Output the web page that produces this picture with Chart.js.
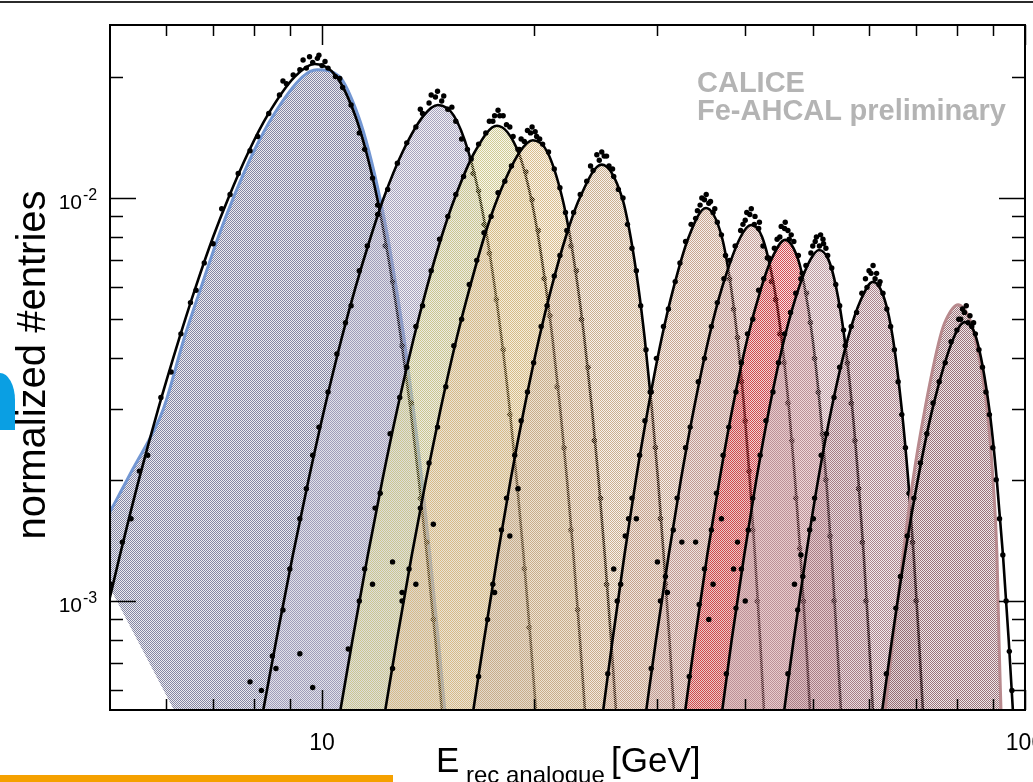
<!DOCTYPE html>
<html>
<head>
<meta charset="utf-8">
<script src="https://cdn.jsdelivr.net/npm/chart.js@4.4.1/dist/chart.umd.min.js"></script>
<style>
  html, body { margin: 0; padding: 0; background: #fff; overflow: hidden; }
  #wrap { position: relative; width: 1033px; height: 782px; overflow: hidden; font-family: "Liberation Sans", Arial, sans-serif; }
  #wrap canvas { position: absolute; left: 0; top: 0; }
  .abs { position: absolute; white-space: nowrap; line-height: 1; }
</style>
</head>
<body>
<div id="wrap">
  <canvas id="chart" width="1033" height="782"></canvas>
  <div class="abs" style="left:0;top:1px;width:1033px;height:2px;background:#2b2b2b"></div>
  <div class="abs" style="left:0;top:373px;width:15px;height:57px;background:#0a9fe3;border-top-right-radius:15px 27px"></div>
  <div class="abs" style="left:-149px;top:341px;width:360px;height:48px;line-height:48px;font-size:40px;text-align:center;transform:rotate(-90deg)">normalized #entries</div>
  <div class="abs" style="left:697px;top:68px;font-size:29px;font-weight:bold;color:#b4b4b4">CALICE</div>
  <div class="abs" style="left:697px;top:96px;font-size:29px;font-weight:bold;color:#b4b4b4">Fe-AHCAL preliminary</div>
  <div class="abs" style="left:436px;top:742px;font-size:35px">E</div>
  <div class="abs" style="left:466px;top:763px;font-size:24px">rec analogue</div>
  <div class="abs" style="left:611px;top:742px;font-size:35px">[GeV]</div>
  <div class="abs" style="left:0;top:775px;width:393px;height:7px;background:#f5a100"></div>
</div>
<script>
// beam energies (GeV)
const energies = [10, 15, 18, 20, 25, 35, 40, 45, 50, 60, 80];

// fitted curves, [E_rec, normalized entries]
const fit10 = [[4.83,8e-4],[5.16,1.3e-3],[5.49,2e-3],[5.85,3e-3],[6.27,4.5e-3],[6.61,6e-3],[7.0,8e-3],[7.36,1e-2],[7.86,1.3e-2],[8.36,1.6e-2],[9.15,2e-2],[9.77,2.15e-2],[10.49,2e-2],[11.15,1.6e-2],[11.56,1.3e-2],[11.98,1e-2],[12.28,8e-3],[12.63,6e-3],[12.95,4.5e-3],[13.36,3e-3],[13.73,2e-3],[14.10,1.3e-3],[14.50,8e-4],[14.82,5.3e-4]];
const fit15 = [[8.24,5.3e-4],[8.61,8e-4],[9.09,1.3e-3],[9.57,2e-3],[10.08,3e-3],[10.67,4.5e-3],[11.16,6e-3],[11.73,8e-3],[12.24,1e-2],[13.02,1.3e-2],[13.95,1.6e-2],[14.62,1.70e-2],[15.40,1.6e-2],[16.16,1.3e-2],[16.77,1e-2],[17.17,8e-3],[17.61,6e-3],[18.00,4.5e-3],[18.49,3e-3],[18.92,2e-3],[19.35,1.3e-3],[19.80,8e-4],[20.16,5.3e-4]];
const fit18 = [[10.61,5.3e-4],[11.05,8e-4],[11.62,1.3e-3],[12.19,2e-3],[12.80,3e-3],[13.51,4.5e-3],[14.10,6e-3],[14.79,8e-3],[15.45,1e-2],[16.49,1.3e-2],[17.74,1.51e-2],[19.02,1.3e-2],[19.83,1e-2],[20.31,8e-3],[20.82,6e-3],[21.27,4.5e-3],[21.82,3e-3],[22.31,2e-3],[22.79,1.3e-3],[23.28,8e-4],[23.67,5.3e-4]];
const fit20 = [[12.29,5.3e-4],[12.78,8e-4],[13.42,1.3e-3],[14.06,2e-3],[14.75,3e-3],[15.55,4.5e-3],[16.23,6e-3],[17.01,8e-3],[17.78,1e-2],[19.11,1.3e-2],[19.95,1.39e-2],[20.92,1.3e-2],[21.97,1e-2],[22.54,8e-3],[23.12,6e-3],[23.61,4.5e-3],[24.21,3e-3],[24.74,2e-3],[25.25,1.3e-3],[25.78,8e-4],[26.20,5.3e-4]];
const fit25 = [[16.40,5.3e-4],[17.00,8e-4],[17.78,1.3e-3],[18.55,2e-3],[19.39,3e-3],[20.37,4.5e-3],[21.21,6e-3],[22.22,8e-3],[23.26,1e-2],[25.0,1.21e-2],[26.73,1e-2],[27.48,8e-3],[28.19,6e-3],[28.77,4.5e-3],[29.46,3e-3],[30.06,2e-3],[30.62,1.3e-3],[31.21,8e-4],[31.67,5.3e-4]];
const fit35 = [[25.10,5.3e-4],[25.90,8e-4],[26.93,1.3e-3],[27.96,2e-3],[29.09,3e-3],[30.43,4.5e-3],[31.64,6e-3],[33.24,8e-3],[35.17,9.44e-3],[37.05,8e-3],[38.18,6e-3],[38.98,4.5e-3],[39.87,3e-3],[40.60,2e-3],[41.29,1.3e-3],[42.00,8e-4],[42.54,5.3e-4]];
const fit40 = [[28.90,5.3e-4],[29.86,8e-4],[31.13,1.3e-3],[32.40,2e-3],[33.81,3e-3],[35.51,4.5e-3],[37.08,6e-3],[39.39,8e-3],[40.76,8.57e-3],[42.27,8e-3],[43.98,6e-3],[45.04,4.5e-3],[46.16,3e-3],[47.08,2e-3],[47.93,1.3e-3],[48.80,8e-4],[49.46,5.3e-4]];
const fit45 = [[32.84,5.3e-4],[33.91,8e-4],[35.32,1.3e-3],[36.77,2e-3],[38.35,3e-3],[40.31,4.5e-3],[42.17,6e-3],[43.54,7.02e-3],[45.57,7.87e-3],[47.59,7.02e-3],[48.59,6e-3],[49.85,4.5e-3],[51.12,3e-3],[52.15,2e-3],[53.08,1.3e-3],[54.01,8e-4],[54.74,5.3e-4]];
const fit50 = [[37.07,5.3e-4],[38.26,8e-4],[39.87,1.3e-3],[41.48,2e-3],[43.27,3e-3],[45.50,4.5e-3],[47.70,6e-3],[49.49,7.02e-3],[50.93,7.43e-3],[52.55,7.02e-3],[53.87,6e-3],[55.35,4.5e-3],[56.80,3e-3],[57.93,2e-3],[58.97,1.3e-3],[59.99,8e-4],[60.78,5.3e-4]];
const fit60 = [[45.41,5.3e-4],[46.87,8e-4],[48.82,1.3e-3],[50.79,2e-3],[53.06,3e-3],[56.02,4.5e-3],[58.39,5.58e-3],[60.78,6.19e-3],[63.18,5.58e-3],[64.86,4.5e-3],[66.77,3e-3],[68.21,2e-3],[69.45,1.3e-3],[70.66,8e-4],[71.60,5.3e-4]];
const fit80 = [[62.60,5.3e-4],[64.67,8e-4],[67.45,1.3e-3],[70.40,2e-3],[73.87,3e-3],[79.17,4.5e-3],[82.16,4.92e-3],[85.22,4.5e-3],[88.95,3e-3],[91.17,2e-3],[93.04,1.3e-3],[94.80,8e-4],[96.14,5.3e-4]];

// simulation histograms that differ visibly from the fit
const sim10 = [[4.99,1.66e-3],[5.37,2.11e-3],[5.95,3e-3],[6.37,4.5e-3],[6.73,6e-3],[7.12,8e-3],[7.48,1e-2],[7.99,1.3e-2],[8.52,1.6e-2],[9.39,2e-2],[9.84,2.08e-2],[10.59,2e-2],[11.26,1.6e-2],[11.67,1.3e-2],[12.09,1e-2],[12.40,8e-3],[12.75,6e-3],[13.08,4.5e-3],[13.49,3e-3],[13.87,2e-3],[14.24,1.3e-3],[14.64,8e-4],[14.96,5.3e-4]];
const sim10Base = [[4.99,1.08e-3],[6.18,5.3e-4],[16,5.3e-4]];
const sim80 = [[63.22,5.3e-4],[64.89,8e-4],[67.06,1.3e-3],[69.29,2e-3],[72.07,3e-3],[75.70,4.5e-3],[77.20,4.98e-3],[80.30,5.43e-3],[83.52,4.98e-3],[84.89,4.5e-3],[88.29,3e-3],[90.05,2e-3],[91.23,1.3e-3],[91.83,8e-4],[92.45,5.3e-4]];

// data points
const dots10 = [[5.0,1.1e-3],[5.2,1.4e-3],[5.35,1.6e-3],[5.5,2.1e-3],[5.65,2.3e-3],[5.9,3.2e-3],[6.1,3.7e-3],[6.3,4.6e-3],[6.5,5.5e-3],[6.62,5.9e-3],[6.8,6.9e-3],[7.0,7.7e-3],[7.2,9.4e-3],[7.4,1.02e-2],[7.6,1.15e-2],[7.9,1.31e-2],[8.1,1.42e-2],[8.4,1.62e-2],[8.7,1.8e-2],[8.8,1.95e-2],[8.9,1.92e-2],[9.1,2.02e-2],[9.3,2.08e-2],[9.4,2.2e-2],[9.5,2.1e-2],[9.6,2.24e-2],[9.7,2.17e-2],[9.85,2.22e-2],[9.9,2.26e-2],[10.0,2.13e-2],[10.1,2.18e-2],[10.2,2.1e-2],[10.45,2.0e-2],[10.6,1.98e-2],[10.7,1.88e-2],[11.0,1.7e-2],[11.3,1.45e-2],[11.5,1.32e-2],[11.8,1.12e-2],[12.0,9.6e-3],[12.3,7.6e-3],[12.6,6.2e-3],[13.0,4.3e-3],[13.4,3.1e-3],[13.8,1.8e-3],[14.1,1.4e-3],[14.4,9e-4]];
const dots15 = [[7.9,6.3e-4],[8.2,6e-4],[8.5,7.3e-4],[8.6,6.8e-4],[8.8,9.5e-4],[9.0,1.2e-3],[9.3,7.4e-4],[9.3,1.6e-3],[9.5,1.9e-3],[9.7,6.1e-4],[9.7,2.3e-3],[9.9,2.7e-3],[10.2,3.3e-3],[10.5,4.1e-3],[10.8,4.9e-3],[11.0,5.4e-3],[11.3,6.6e-3],[11.6,7.6e-3],[12.0,9.1e-3],[12.4,1.05e-2],[12.8,1.22e-2],[13.2,1.37e-2],[13.6,1.5e-2],[13.8,1.66e-2],[13.9,1.62e-2],[14.2,1.72e-2],[14.3,1.8e-2],[14.5,1.78e-2],[14.6,1.84e-2],[14.8,1.74e-2],[14.9,1.79e-2],[15.1,1.66e-2],[15.3,1.68e-2],[15.5,1.55e-2],[15.8,1.4e-2],[16.1,1.32e-2],[16.4,1.15e-2],[16.7,1.04e-2],[17.0,8.6e-3],[17.3,7.3e-3],[17.7,5.6e-3],[18.1,4.2e-3],[18.5,2.9e-3],[19.0,1.9e-3],[19.4,1.2e-3],[19.7,8.6e-4]];
const dots18 = [[10.9,7.6e-4],[11.3,1.0e-3],[11.5,1.2e-3],[11.8,1.1e-3],[11.9,1.7e-3],[12.1,1.85e-3],[12.5,2.6e-3],[12.6,1.25e-3],[12.9,3.2e-3],[13.0,1.05e-3],[13.2,3.8e-3],[13.6,4.8e-3],[13.9,5.4e-3],[14.3,6.6e-3],[14.7,7.9e-3],[15.1,9.0e-3],[15.5,1.02e-2],[15.9,1.13e-2],[16.3,1.25e-2],[16.7,1.36e-2],[17.1,1.45e-2],[17.3,1.55e-2],[17.5,1.55e-2],[17.6,1.6e-2],[17.8,1.65e-2],[17.9,1.6e-2],[18.1,1.6e-2],[18.3,1.52e-2],[18.5,1.5e-2],[18.7,1.42e-2],[19.1,1.32e-2],[19.5,1.16e-2],[19.9,9.9e-3],[20.3,8.3e-3],[20.7,6.3e-3],[21.1,5.1e-3],[21.6,3.4e-3],[22.1,2.4e-3],[22.6,1.5e-3],[23.1,9.5e-4]];
const dots20 = [[12.6,6.8e-4],[13.0,1.0e-3],[13.3,1.2e-3],[13.6,1.1e-3],[13.8,1.7e-3],[14.2,2.2e-3],[14.4,1.55e-3],[14.6,2.7e-3],[15.0,3.4e-3],[15.4,4.3e-3],[15.8,5.0e-3],[16.2,6.1e-3],[16.6,7.0e-3],[17.0,8.2e-3],[17.4,9.0e-3],[17.8,1.03e-2],[18.2,1.1e-2],[18.6,1.2e-2],[19.0,1.32e-2],[19.2,1.4e-2],[19.4,1.38e-2],[19.6,1.47e-2],[19.8,1.45e-2],[19.9,1.5e-2],[20.1,1.46e-2],[20.2,1.42e-2],[20.4,1.4e-2],[20.6,1.36e-2],[21.0,1.3e-2],[21.4,1.18e-2],[21.8,1.06e-2],[22.2,9.2e-3],[22.6,7.6e-3],[23.0,6.6e-3],[23.4,5.0e-3],[23.9,3.8e-3],[24.4,2.5e-3],[24.9,1.8e-3],[25.4,1.1e-3]];
const dots25 = [[16.7,6.5e-4],[17.2,9.0e-4],[17.5,1.1e-3],[17.6,1.05e-3],[18.0,1.5e-3],[18.3,1.8e-3],[18.5,1.45e-3],[18.8,2.3e-3],[19.0,1.9e-3],[19.2,2.8e-3],[19.6,3.3e-3],[20.0,3.9e-3],[20.5,4.8e-3],[20.9,5.4e-3],[21.4,6.4e-3],[21.8,7.2e-3],[22.3,8.3e-3],[22.8,9.2e-3],[23.3,1.02e-2],[23.8,1.1e-2],[24.1,1.2e-2],[24.3,1.17e-2],[24.6,1.28e-2],[24.8,1.24e-2],[25.0,1.3e-2],[25.2,1.27e-2],[25.4,1.27e-2],[25.6,1.2e-2],[25.9,1.18e-2],[26.0,1.13e-2],[26.4,1.05e-2],[26.8,1.0e-2],[27.2,8.6e-3],[27.6,7.5e-3],[28.0,6.6e-3],[28.4,5.4e-3],[28.9,4.2e-3],[29.3,3.3e-3],[29.8,2.4e-3],[30.3,1.6e-3],[30.8,1.1e-3]];
const dots35 = [[25.5,6.6e-4],[26.0,1.2e-3],[26.3,1.0e-3],[26.6,1.1e-3],[27.0,1.45e-3],[27.3,1.6e-3],[27.6,1.8e-3],[28.0,1.6e-3],[28.3,2.3e-3],[28.8,2.8e-3],[29.4,3.3e-3],[29.9,4.0e-3],[30.6,4.8e-3],[31.1,5.3e-3],[31.8,6.2e-3],[32.3,6.9e-3],[32.9,7.8e-3],[33.5,8.6e-3],[34.0,8.9e-3],[34.2,9.3e-3],[34.5,9.6e-3],[34.7,1.0e-2],[35.0,9.9e-3],[35.2,1.02e-2],[35.5,9.7e-3],[35.7,9.8e-3],[36.0,9.2e-3],[36.2,9.4e-3],[36.5,8.7e-3],[37.0,8.1e-3],[37.5,7.2e-3],[38.0,6.3e-3],[38.5,5.3e-3],[39.0,4.5e-3],[39.5,3.5e-3],[40.0,2.8e-3],[40.5,2.1e-3],[41.0,1.5e-3],[41.6,1.0e-3]];
const dots40 = [[29.4,6.8e-4],[30.0,1.25e-3],[30.3,1.0e-3],[30.8,1.15e-3],[31.0,1.05e-3],[31.6,1.5e-3],[32.0,1.8e-3],[32.5,1.4e-3],[32.9,2.4e-3],[33.4,2.7e-3],[34.3,3.5e-3],[35.0,4.0e-3],[35.8,4.8e-3],[36.5,5.5e-3],[37.3,6.3e-3],[38.0,7.0e-3],[38.7,7.6e-3],[39.4,8.3e-3],[39.7,8.6e-3],[40.0,8.8e-3],[40.2,9.2e-3],[40.6,9.1e-3],[40.8,9.4e-3],[41.2,8.6e-3],[41.3,9.0e-3],[41.8,8.4e-3],[41.9,8.7e-3],[42.4,7.6e-3],[43.0,7.1e-3],[43.6,6.2e-3],[44.2,5.6e-3],[44.8,4.6e-3],[45.4,3.9e-3],[46.0,3.1e-3],[46.6,2.5e-3],[47.2,1.8e-3],[47.8,1.35e-3],[48.4,1.0e-3]];
const dots45 = [[33.3,6.5e-4],[34.0,1.4e-3],[34.4,9.8e-4],[35.0,1.2e-3],[35.5,9e-4],[35.8,1.5e-3],[36.0,1.1e-3],[36.4,1.85e-3],[37.0,1.6e-3],[37.2,2.3e-3],[37.9,2.7e-3],[38.8,3.3e-3],[39.5,3.9e-3],[40.3,4.6e-3],[41.0,5.0e-3],[41.8,5.9e-3],[42.5,6.3e-3],[43.2,7.1e-3],[44.0,7.5e-3],[44.4,7.9e-3],[44.8,8.0e-3],[45.0,8.5e-3],[45.5,8.4e-3],[45.6,8.7e-3],[46.0,8.3e-3],[46.2,7.9e-3],[46.5,8.1e-3],[46.9,7.8e-3],[47.6,7.2e-3],[48.2,6.5e-3],[48.9,5.8e-3],[49.5,4.9e-3],[50.2,4.0e-3],[50.8,3.3e-3],[51.5,2.6e-3],[52.1,2.0e-3],[52.8,1.45e-3],[53.5,1.0e-3]];
const dots50 = [[37.6,6.6e-4],[38.5,1.2e-3],[38.8,9.6e-4],[39.0,1.4e-3],[39.5,1.2e-3],[40.0,1.0e-3],[40.4,1.5e-3],[41.0,1.8e-3],[42.0,2.3e-3],[42.8,2.8e-3],[43.8,3.3e-3],[44.6,3.9e-3],[45.5,4.6e-3],[46.4,5.2e-3],[47.2,5.8e-3],[48.0,6.3e-3],[48.8,6.8e-3],[49.6,7.3e-3],[49.9,7.6e-3],[50.3,7.8e-3],[50.5,8.0e-3],[51.0,7.6e-3],[51.2,8.1e-3],[51.6,7.9e-3],[51.7,7.7e-3],[52.1,7.5e-3],[52.4,7.2e-3],[53.1,6.7e-3],[53.8,6.1e-3],[54.5,5.4e-3],[55.2,4.7e-3],[55.9,3.9e-3],[56.6,3.1e-3],[57.3,2.5e-3],[58.0,1.9e-3],[58.7,1.4e-3],[59.4,1.0e-3]];
const dots60 = [[46.0,6.6e-4],[47.0,1.1e-3],[47.5,9.5e-4],[48.0,1.3e-3],[48.3,1.15e-3],[49.4,1.5e-3],[50.0,1.6e-3],[50.2,1.8e-3],[51.3,2.3e-3],[52.2,2.6e-3],[53.5,3.2e-3],[54.5,3.8e-3],[55.5,4.3e-3],[56.6,4.8e-3],[57.6,5.2e-3],[58.6,5.8e-3],[59.3,6.3e-3],[59.6,6.0e-3],[60.0,6.6e-3],[60.4,6.5e-3],[60.8,6.8e-3],[61.2,6.3e-3],[61.5,6.5e-3],[62.0,6.1e-3],[62.2,6.2e-3],[62.8,5.8e-3],[63.6,5.3e-3],[64.4,4.8e-3],[65.2,4.2e-3],[66.0,3.5e-3],[66.8,2.9e-3],[67.6,2.4e-3],[68.4,1.85e-3],[69.2,1.4e-3],[70.0,1.0e-3]];
const dots80 = [[63.5,6.6e-4],[65.5,9.6e-4],[66.5,1.15e-3],[68.0,1.45e-3],[69.5,1.8e-3],[71.0,2.2e-3],[72.5,2.6e-3],[74.0,3.1e-3],[75.5,3.5e-3],[77.0,3.9e-3],[78.5,4.4e-3],[80.0,4.7e-3],[80.5,5.0e-3],[81.0,5.0e-3],[81.5,5.3e-3],[82.0,5.2e-3],[82.5,5.4e-3],[83.0,4.9e-3],[83.5,5.1e-3],[84.0,4.8e-3],[84.5,4.9e-3],[85.0,4.6e-3],[86.0,4.2e-3],[87.0,3.8e-3],[88.0,3.3e-3],[89.0,2.9e-3],[90.0,2.4e-3],[91.0,2.0e-3],[92.0,1.6e-3],[93.0,1.3e-3],[94.0,1.0e-3],[95.0,7.5e-4],[95.8,6e-4]];

// axis ticks
const xTickVals = [6, 7, 8, 9, 10, 20, 30, 40, 50, 60, 70, 80, 90, 100];
const xLabelVals = [10, 100];
const yTickVals = [6e-4, 7e-4, 8e-4, 9e-4, 1e-3, 2e-3, 3e-3, 4e-3, 5e-3, 6e-3, 7e-3, 8e-3, 9e-3, 1e-2, 2e-2];
const yLabelVals = [1e-3, 1e-2];
const yLabelExp = ['-3', '-2'];

// styles
const fillColors = [[126,127,158],[162,158,186],[206,200,141],[216,185,135],[200,171,138],[197,161,138],[194,153,145],[210,66,74],[186,150,156],[166,124,133],[150,108,115]];
const FONT = '"Liberation Sans", Arial, sans-serif';

const canvas = document.getElementById('chart');
const ctx = canvas.getContext('2d');

// ROOT-like dotted fill: opaque dots on a faint wash, checkerboard
function makePattern(rgb) {
    const tile = document.createElement('canvas');
    tile.width = 2;
    tile.height = 2;
    const g = tile.getContext('2d');
    const [r, gr, b] = rgb;
    g.fillStyle = `rgba(${r},${gr},${b},0.15)`;
    g.fillRect(1, 0, 1, 1);
    g.fillRect(0, 1, 1, 1);
    g.fillStyle = `rgba(${r},${gr},${b},0.95)`;
    g.fillRect(0, 0, 1, 1);
    g.fillRect(1, 1, 1, 1);
    return ctx.createPattern(tile, 'repeat');
}

const fitSets = [fit10, fit15, fit18, fit20, fit25, fit35, fit40, fit45, fit50, fit60, fit80];
const dotSets = [dots10, dots15, dots18, dots20, dots25, dots35, dots40, dots45, dots50, dots60, dots80];
const fillSets = [sim10, fit15, fit18, fit20, fit25, fit35, fit40, fit45, fit50, fit60, sim80];

const datasets = [{
    label: 'base10',
    data: sim10Base,
    showLine: true,
    borderColor: 'rgba(0,0,0,0)',
    borderWidth: 1,
    pointRadius: 0,
    fill: false
}];

energies.forEach((e, i) => {
    const [r, g, b] = fillColors[i];
    let edge = `rgba(${r},${g},${b},0.45)`;
    let edgeWidth = 1;
    if (i === 0) { edge = '#7397d3'; edgeWidth = 3; }
    if (i === energies.length - 1) { edge = '#b88a8e'; edgeWidth = 3; }

    datasets.push({
        label: `sim ${e} GeV`,
        data: fillSets[i],
        showLine: true,
        fill: i === 0 ? { target: 0 } : 'start',
        backgroundColor: makePattern(fillColors[i]),
        borderColor: edge,
        borderWidth: edgeWidth,
        pointRadius: 0,
        cubicInterpolationMode: 'monotone'
    });
    datasets.push({
        label: `fit ${e} GeV`,
        data: fitSets[i],
        showLine: true,
        fill: false,
        borderColor: '#000',
        borderWidth: 2.6,
        pointRadius: 0,
        cubicInterpolationMode: 'monotone'
    });
    datasets.push({
        label: `data ${e} GeV`,
        data: dotSets[i],
        showLine: false,
        fill: false,
        pointRadius: 2.7,
        pointBorderWidth: 0,
        pointBackgroundColor: '#000'
    });
});

// first dataset drawn at the bottom, later energies on top
datasets.forEach((d, k) => { d.order = datasets.length - k; });

const rootAxes = {
    id: 'rootAxes',
    afterDraw(chart) {
        const { ctx, chartArea: a, scales: { x, y } } = chart;
        ctx.save();
        ctx.strokeStyle = '#000';
        ctx.lineWidth = 1.5;
        ctx.beginPath();
        xTickVals.forEach(v => {
            const px = Math.round(x.getPixelForValue(v)) + 0.5;
            const len = (v === 10 || v === 100) ? 20 : 11;
            ctx.moveTo(px, a.bottom); ctx.lineTo(px, a.bottom - len);
            ctx.moveTo(px, a.top); ctx.lineTo(px, a.top + len);
        });
        yTickVals.forEach(v => {
            const py = Math.round(y.getPixelForValue(v)) + 0.5;
            const len = (v === 1e-3 || v === 1e-2) ? 26 : 13;
            ctx.moveTo(a.left, py); ctx.lineTo(a.left + len, py);
            ctx.moveTo(a.right, py); ctx.lineTo(a.right - len, py);
        });
        ctx.stroke();

        ctx.lineWidth = 2;
        ctx.strokeRect(a.left, a.top, a.right - a.left, a.bottom - a.top);

        ctx.fillStyle = '#000';
        ctx.textBaseline = 'alphabetic';
        ctx.font = `23px ${FONT}`;
        ctx.textAlign = 'center';
        xLabelVals.forEach(v => {
            ctx.fillText(String(v), x.getPixelForValue(v), a.bottom + 40);
        });
        yLabelVals.forEach((v, i) => {
            const py = y.getPixelForValue(v);
            ctx.font = `21px ${FONT}`;
            ctx.textAlign = 'right';
            ctx.fillText('10', a.left - 28, py + 11);
            ctx.font = `16px ${FONT}`;
            ctx.textAlign = 'left';
            ctx.fillText(yLabelExp[i], a.left - 27, py + 2);
        });
        ctx.restore();
    }
};

new Chart(ctx, {
    type: 'scatter',
    data: { datasets },
    options: {
        responsive: false,
        animation: false,
        events: [],
        layout: { padding: { left: 110, top: 25, right: 8, bottom: 72 } },
        scales: {
            x: { type: 'logarithmic', min: 4.994, max: 100, display: false },
            y: { type: 'logarithmic', min: 5.364e-4, max: 2.686e-2, display: false }
        },
        plugins: {
            legend: { display: false },
            tooltip: { enabled: false }
        }
    },
    plugins: [rootAxes]
});
</script>
</body>
</html>
